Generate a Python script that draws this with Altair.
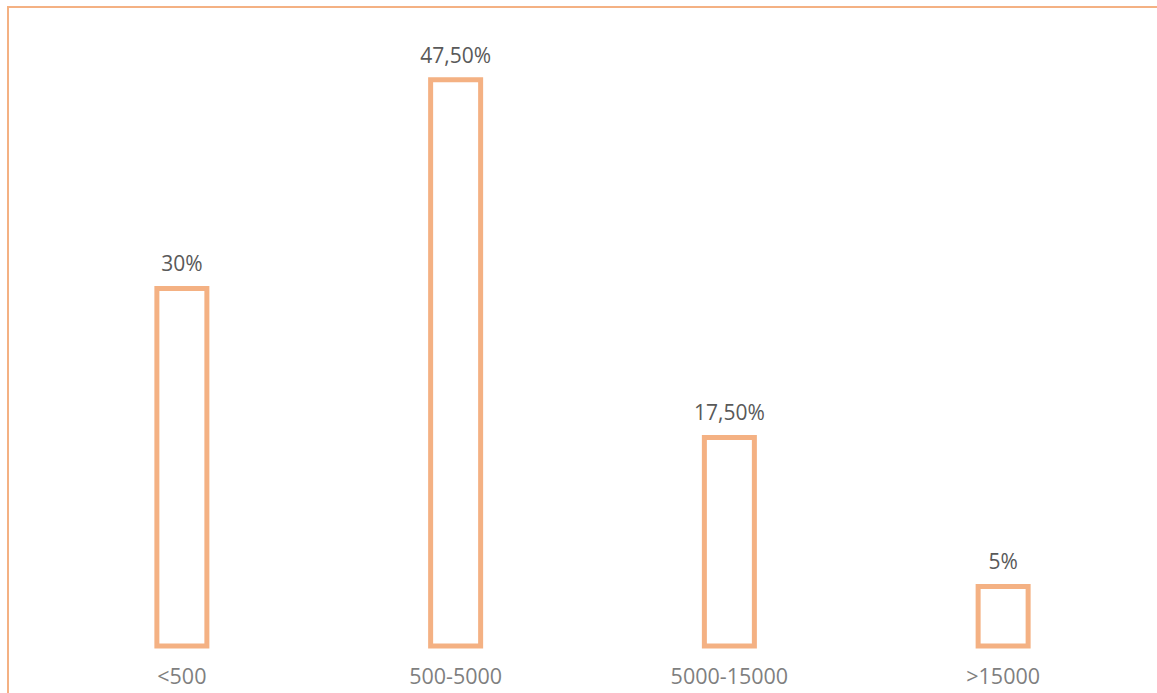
import altair as alt
import pandas as pd

categories = ["<500", "500-5000", "5000-15000", ">15000"]
values = [30, 47.5, 17.5, 5]
labels = ["30%", "47,50%", "17,50%", "5%"]

df = pd.DataFrame({"cat": categories, "val": values, "lab": labels})

ORANGE = "#F4B183"
FONT = "Open Sans"

x = alt.X("cat:N", sort=categories, title=None,
          scale=alt.Scale(paddingInner=0, paddingOuter=0),
          axis=alt.Axis(labelAngle=0, domain=False, ticks=False, labelFont=FONT,
                        labelFontSize=21.5, labelColor="#7F7F7F", labelPadding=20,
                        labelBaseline="top"))
y = alt.Y("val:Q", title=None, scale=alt.Scale(domain=[0, 50], nice=False),
          axis=None)

bars = alt.Chart(df).mark_bar(width=50, fill="white", stroke=ORANGE,
                              strokeWidth=5).encode(x=x, y=y)
text = alt.Chart(df).mark_text(font=FONT, fontSize=21, color="#595959",
                               baseline="bottom", dy=-13).encode(
    x=alt.X("cat:N", sort=categories), y="val:Q", text="lab:N")

top_line = alt.Chart(df).mark_rule(color=ORANGE, strokeWidth=2).encode(
    x=alt.value(-37), x2=alt.value(1120), y=alt.value(-43))
left_line = alt.Chart(df).mark_rule(color=ORANGE, strokeWidth=2).encode(
    x=alt.value(-37), y=alt.value(-44), y2=alt.value(660))

chart = alt.layer(bars, text, top_line, left_line).properties(
    width=1095, height=596,
    autosize=alt.AutoSizeParams(type="none"),
    padding={"left": 45, "top": 50, "right": 17, "bottom": 47},
    background="white",
).configure_view(stroke=None)

chart.save("out.html", embed_options={"renderer": "svg", "actions": False})
